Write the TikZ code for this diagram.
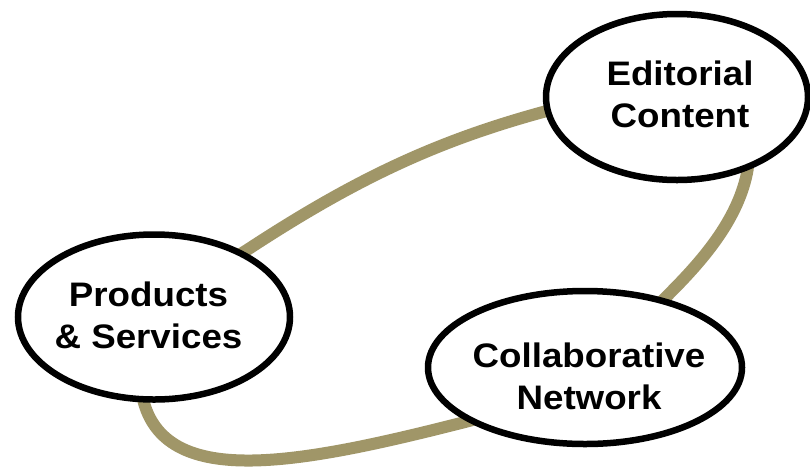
\documentclass[tikz,border=0pt]{standalone}
\usepackage{fontspec}
\setmainfont{Liberation Sans}
\newfontfamily\labelfont[FakeStretch=1.08]{Liberation Sans}
\usetikzlibrary{shapes.geometric}
\definecolor{loopcol}{RGB}{160,150,104}
\tikzset{
  bubble/.style={ellipse, draw=black, line width=6.5pt, fill=white, inner sep=0pt},
  lbl/.style={align=center, inner sep=0pt, font=\labelfont\bfseries\fontsize{34}{42}\selectfont},
  ring/.style={draw=loopcol, line width=12pt}
}
\begin{document}
\begin{tikzpicture}[x=1pt,y=-1pt]
\useasboundingbox (0,0) rectangle (810,472);
% junctions of the loop (hidden ones lie under the ellipses)
\coordinate (pa) at (247,250);
\coordinate (pb) at (543,112);
\coordinate (pc) at (747,173);
\coordinate (pd) at (668,295);
\coordinate (pe) at (465,422);
\coordinate (pf) at (144,403);
\draw[ring] (pa) .. controls (356,178.5) and (437,141) .. (pb)
  .. controls (659,81) and (761,104) .. (pc)
  .. controls (737,222) and (700,263) .. (pd)
  .. controls (604,359) and (552,400) .. (pe)
  .. controls (300,464) and (169,489) .. (pf)
  .. controls (122,326) and (176,294) .. cycle;
\node[bubble, minimum width=262pt, minimum height=166pt] (ed) at (677,97) {};
\node[bubble, minimum width=272pt, minimum height=165pt] (ps) at (154,317) {};
\node[bubble, minimum width=314pt, minimum height=153pt] (cn) at (585,367.5) {};
\node[lbl] (edt) at (680,94) {Editorial\\Content};
\node[lbl] (pst) at (148.5,315) {Products\\\& Services};
\node[lbl] (cnt) at (589,376.6) {Collaborative\\Network};
\end{tikzpicture}
\end{document}
